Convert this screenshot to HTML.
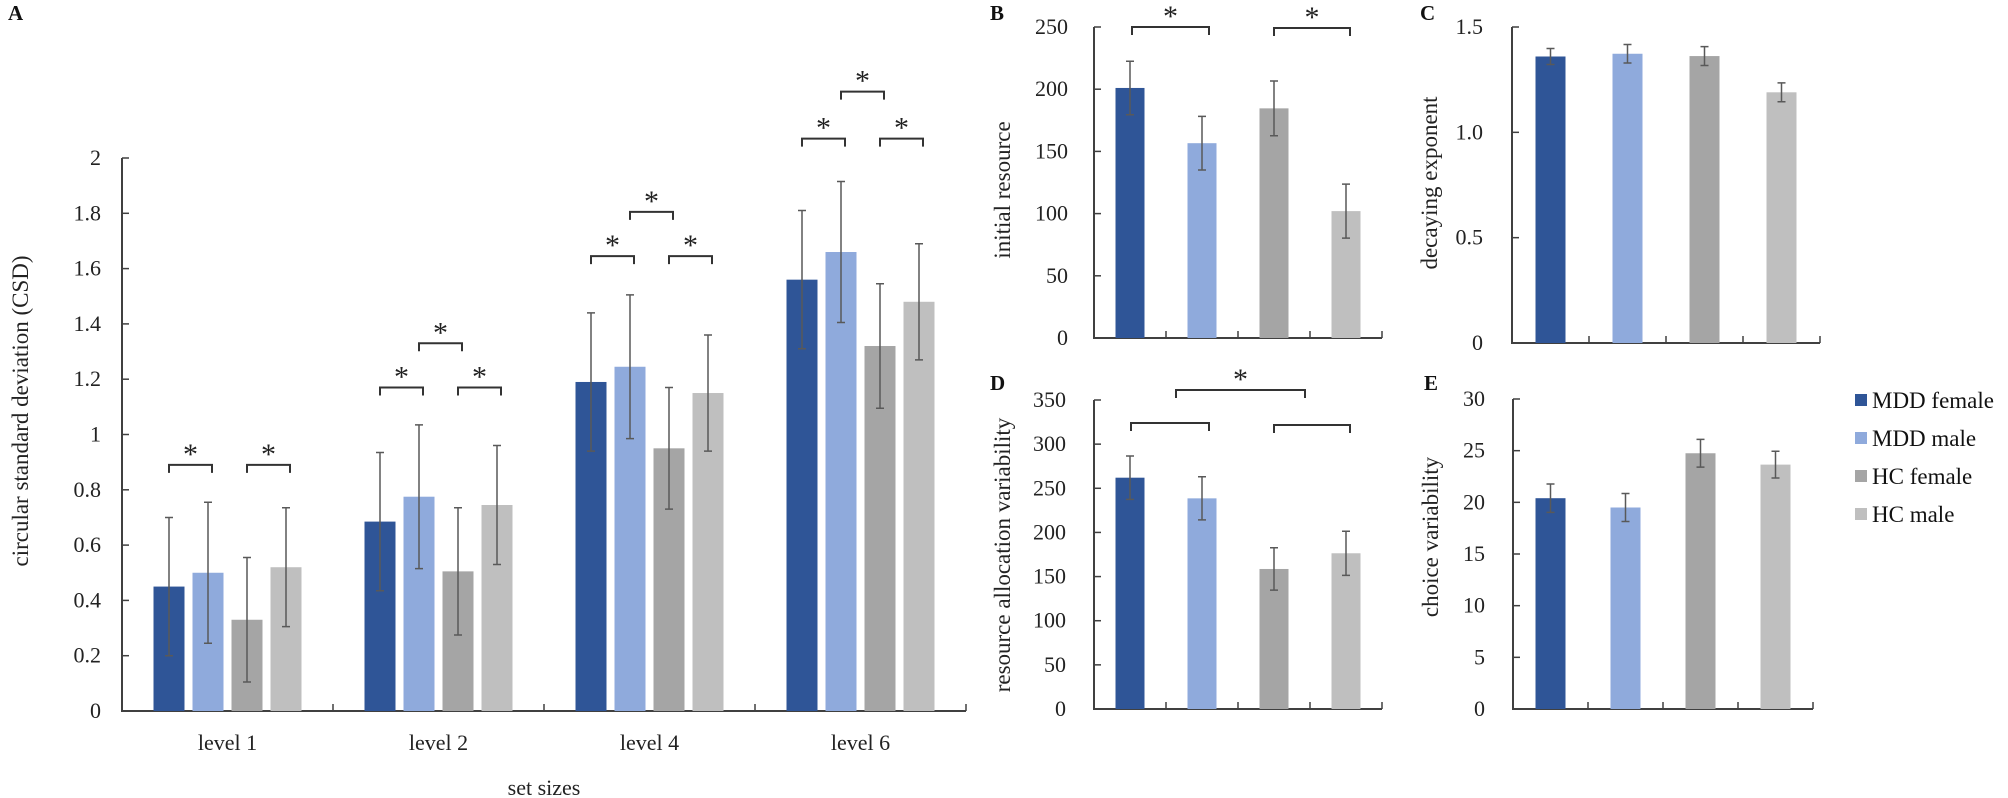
<!DOCTYPE html>
<html><head><meta charset="utf-8"><style>
html,body{margin:0;padding:0;background:#fff;}
svg{display:block;font-family:"Liberation Serif",serif;}
</style></head><body>
<svg id="fig" width="2008" height="798" viewBox="0 0 2008 798" xmlns="http://www.w3.org/2000/svg"></svg>
<script>
const groupNames = ["MDD female","MDD male","HC female","HC male"];
const colors = ["#2F5597","#8FAADC","#A5A5A5","#BFBFBF"];
// Panel A
const aCategories = ["level 1","level 2","level 4","level 6"];
const aMeans = [[0.45,0.50,0.33,0.52],[0.685,0.775,0.505,0.745],[1.19,1.245,0.95,1.15],[1.56,1.66,1.32,1.48]];
const aErrs = [[0.25,0.255,0.225,0.215],[0.25,0.26,0.23,0.215],[0.25,0.26,0.22,0.21],[0.25,0.255,0.225,0.21]];
const aTicks = [0,0.2,0.4,0.6,0.8,1,1.2,1.4,1.6,1.8,2];
const aBracketPairs = [0.89,1.17,1.645,2.07];
const aBracketMid = [null,1.33,1.805,2.24];
// Panel B
const bMeans = [201,156.6,184.6,102];
const bErrs = [21.5,21.6,22,21.7];
const bTicks = [0,50,100,150,200,250];
// Panel C
const cMeans = [1.36,1.373,1.362,1.19];
const cErrs = [0.038,0.044,0.045,0.045];
const cTicks = ["0","0.5","1.0","1.5"];
const cTickVals = [0,0.5,1.0,1.5];
// Panel D
const dMeans = [262,238.6,158.6,176.4];
const dErrs = [24.5,24.4,24,25];
const dTicks = [0,50,100,150,200,250,300,350];
// Panel E
const eMeans = [20.4,19.5,24.75,23.65];
const eErrs = [1.37,1.35,1.34,1.29];
const eTicks = [0,5,10,15,20,25,30];

const NS="http://www.w3.org/2000/svg";
const svg=document.getElementById('fig');
function mk(tag,attrs,parent){const e=document.createElementNS(NS,tag);for(const k in attrs)e.setAttribute(k,attrs[k]);(parent||svg).appendChild(e);return e;}
function txt(s,attrs,parent){const e=mk('text',attrs,parent);e.textContent=s;return e;}
const AX="#404040",ER="#595959";

function panel(cfg){
  const g=mk('g',{});
  
  
  const y=v=>cfg.y0-(v-cfg.vmin)/(cfg.vmax-cfg.vmin)*(cfg.y0-cfg.y1);
  // axes
  const ya=mk('line',{x1:cfg.x0,y1:cfg.y1,x2:cfg.x0,y2:cfg.y0,stroke:AX,'stroke-width':2},g);
  
  
  const xa=mk('line',{x1:cfg.x0-1,y1:cfg.y0,x2:cfg.x1,y2:cfg.y0,stroke:AX,'stroke-width':2},g);
  
  
  cfg.tickVals.forEach((v,i)=>{
    mk('line',{x1:cfg.x0,y1:y(v),x2:cfg.x0+7,y2:y(v),stroke:AX,'stroke-width':1.5},g);
    const t=txt(cfg.tickLabels[i],{x:cfg.labX,y:y(v)+7,'text-anchor':'end','font-size':22,fill:'#222'},g);
    
    
  });
  const nc=cfg.nCat, cw=(cfg.x1-cfg.x0)/nc;
  for(let i=1;i<=nc;i++){mk('line',{x1:cfg.x0+i*cw,y1:cfg.y0,x2:cfg.x0+i*cw,y2:cfg.y0-7,stroke:AX,'stroke-width':1.5},g);}
  const yt=txt(cfg.title,{x:0,y:0,'text-anchor':'middle','font-size':23,fill:'#222',transform:`translate(${cfg.titleX},${cfg.titleY}) rotate(-90)`},g);
  
  
  const lt=txt(cfg.letter,{x:cfg.letX,y:cfg.letY,'font-size':21,'font-weight':'bold',fill:'#111'},g);
  
  
  return {g,y,cw};
}
function bar(g,cx,w,top,bot,col){
  const r=mk('rect',{x:cx-w/2,y:top,width:w,height:bot-top,fill:col},g);
  
  
}
function err(g,cx,yt,yb){
  const e=mk('path',{d:`M${cx},${yt}V${yb}M${cx-4},${yt}H${cx+4}M${cx-4},${yb}H${cx+4}`,stroke:ER,'stroke-width':1.5,fill:'none'},g);
  
  
}
function bracket(g,xa,xb,yy,star){
  const p=mk('path',{d:`M${xa},${yy+8}V${yy}H${xb}V${yy+8}`,stroke:'#333','stroke-width':2,fill:'none'},g);
  
  
  if(star){const s=txt('*',{x:(xa+xb)/2,y:yy-1,'text-anchor':'middle','font-size':30,fill:'#222'},g);
    
    }
}

// ---- Panel A
const A=panel({name:'panel-a',x0:122,x1:966,y0:711,y1:158,vmin:0,vmax:2,tickVals:aTicks,tickLabels:aTicks.map(String),labX:101,nCat:4,title:'circular standard deviation (CSD)',titleX:28,titleY:411,letter:'A',letX:8,letY:20});
aCategories.forEach((c,ci)=>{
  const cc=122+A.cw*(ci+0.5);
  const xs=[0,1,2,3].map(i=>cc+(i-1.5)*39);
  xs.forEach((x,i)=>{bar(A.g,x,31,A.y(aMeans[ci][i]),711,colors[i]);});
  xs.forEach((x,i)=>{err(A.g,x,A.y(aMeans[ci][i]+aErrs[ci][i]),A.y(aMeans[ci][i]-aErrs[ci][i]));});
  bracket(A.g,xs[0],xs[1]+4,A.y(aBracketPairs[ci]),true);
  bracket(A.g,xs[2],xs[3]+4,A.y(aBracketPairs[ci]),true);
  if(aBracketMid[ci]!==null) bracket(A.g,xs[1],xs[2]+4,A.y(aBracketMid[ci]),true);
  const l=txt(c,{x:cc,y:750,'text-anchor':'middle','font-size':22,fill:'#222'},A.g);
  
  
});
const xt=txt('set sizes',{x:544,y:795,'text-anchor':'middle','font-size':22,fill:'#222'});



function simple(cfg,means,errs,bw){
  const P=panel(cfg);
  const xs=means.map((m,i)=>cfg.x0+P.cw*(i+0.5));
  means.forEach((m,i)=>bar(P.g,xs[i],bw,P.y(m),cfg.y0,colors[i]));
  means.forEach((m,i)=>err(P.g,xs[i],P.y(m+errs[i]),P.y(m-errs[i])));
  return {P,xs};
}
// ---- Panel B
const B=simple({name:'panel-b',x0:1094,x1:1382,y0:338,y1:27,vmin:0,vmax:250,tickVals:bTicks,tickLabels:bTicks.map(String),labX:1068,nCat:4,title:'initial resource',titleX:1010,titleY:190,letter:'B',letX:990,letY:20},bMeans,bErrs,29);
bracket(B.P.g,B.xs[0]+2,B.xs[1]+7,27,true);
bracket(B.P.g,B.xs[2],B.xs[3]+4,28,true);
// ---- Panel C
simple({name:'panel-c',x0:1512,x1:1820,y0:343,y1:27,vmin:0,vmax:1.5,tickVals:cTickVals,tickLabels:cTicks,labX:1483,nCat:4,title:'decaying exponent',titleX:1437,titleY:183,letter:'C',letX:1420,letY:20},cMeans,cErrs,30);
// ---- Panel D
const D=simple({name:'panel-d',x0:1094,x1:1382,y0:709,y1:400,vmin:0,vmax:350,tickVals:dTicks,tickLabels:dTicks.map(String),labX:1066,nCat:4,title:'resource allocation  variability',titleX:1010,titleY:555,letter:'D',letX:990,letY:390},dMeans,dErrs,29);
bracket(D.P.g,D.xs[0]+1,D.xs[1]+7,423,false);
bracket(D.P.g,D.xs[2],D.xs[3]+4,425,false);
bracket(D.P.g,1176,1305,390,true);
// ---- Panel E
simple({name:'panel-e',x0:1513,x1:1813,y0:709,y1:399,vmin:0,vmax:30,tickVals:eTicks,tickLabels:eTicks.map(String),labX:1485,nCat:4,title:'choice variability',titleX:1438,titleY:537,letter:'E',letX:1424,letY:390},eMeans,eErrs,30);

// ---- Legend
const lg=mk('g',{});


groupNames.forEach((n,i)=>{
  const cy=400+i*38;
  const it=mk('g',{},lg);
  
  
  mk('rect',{x:1855,y:cy-6,width:12,height:12,fill:colors[i]},it);
  txt(n,{x:1872,y:cy+8,'font-size':23,fill:'#111'},it);
});
</script>
</body></html>
